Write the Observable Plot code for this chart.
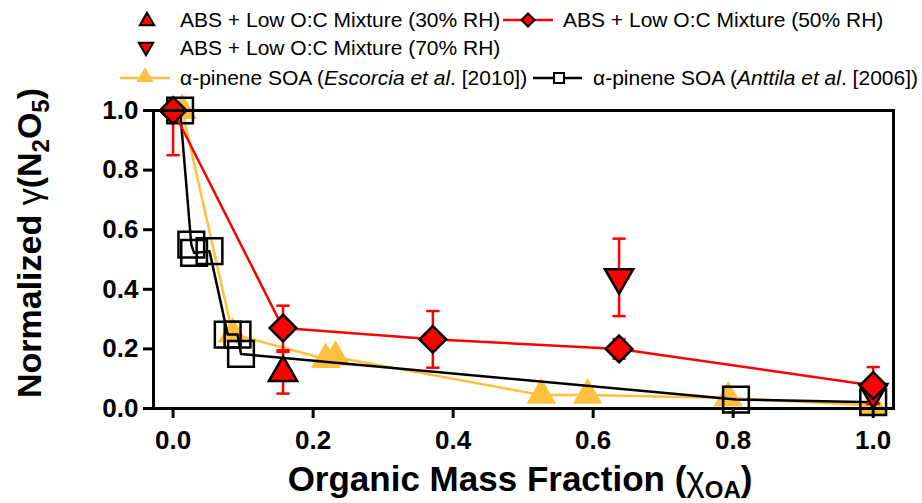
<!DOCTYPE html>
<html>
<head>
<meta charset="utf-8">
<script src="https://cdn.jsdelivr.net/npm/d3@7"></script>
<script src="https://cdn.jsdelivr.net/npm/@observablehq/plot@0.6"></script>
<style>
  body { margin: 0; background: #fff; }
  #wrap { width: 922px; height: 503px; overflow: hidden; position: relative; background: #fff; }
  #legend, #chart { display: block; }
</style>
</head>
<body>
<div id="wrap">
  <svg id="legend" width="922" height="92"></svg>
  <div id="chart"></div>
</div>
<script>
// ABS + low O:C mixture, 50% RH (connected series)
const rh50X   = [0.000, 0.157, 0.371, 0.637, 1.000];
const rh50Y   = [1.000, 0.270, 0.232, 0.200, 0.077];
const rh50Err = [0.150, 0.075, 0.095, 0.033, 0.062];

// ABS + low O:C mixture, 30% RH
const rh30X   = [0.157];
const rh30Y   = [0.120];
const rh30Err = [0.070];

// ABS + low O:C mixture, 70% RH
const rh70X   = [0.637, 1.000];
const rh70Y   = [0.440, 0.055];
const rh70Err = [0.130, 0.038];

// alpha-pinene SOA, Escorcia et al. (2010)
const escX = [0.013, 0.085, 0.218, 0.232, 0.526, 0.592, 0.793, 1.000];
const escY = [1.000, 0.250, 0.165, 0.172, 0.045, 0.045, 0.035, 0.010];

// alpha-pinene SOA, Anttila et al. (2006)
const antX = [0.010, 0.026, 0.030, 0.052, 0.078, 0.092, 0.097, 0.804, 1.000];
const antY = [1.000, 0.550, 0.522, 0.528, 0.248, 0.248, 0.183, 0.030, 0.021];

const xTicks = [0, 0.2, 0.4, 0.6, 0.8, 1.0];
const yTicks = [0, 0.2, 0.4, 0.6, 0.8, 1.0];

const legendLabels = {
  rh30: "ABS + Low O:C Mixture (30% RH)",
  rh50: "ABS + Low O:C Mixture (50% RH)",
  rh70: "ABS + Low O:C Mixture (70% RH)"
};

const RED = "#ff0000";
const ORANGE = "#ffc03f";
const FONT = "'Liberation Sans', Arial, Helvetica, sans-serif";

const rows = (xs, ys, es) => xs.map((x, i) => ({x, y: ys[i], e: es ? es[i] : 0}));
const rh50 = rows(rh50X, rh50Y, rh50Err);
const rh30 = rows(rh30X, rh30Y, rh30Err);
const rh70 = rows(rh70X, rh70Y, rh70Err);
const esc = rows(escX, escY);
const ant = rows(antX, antY);

// short horizontal stroke used as the error-bar cap
const cap = {draw(ctx, size) { const w = Math.sqrt(size) / 2; ctx.moveTo(-w, 0); ctx.lineTo(w, 0); }};

const errorBars = (data) => [
  Plot.ruleX(data.filter(d => d.e > 0), {x: "x", y1: d => d.y - d.e, y2: d => d.y + d.e, stroke: RED, strokeWidth: 2.5, clip: true}),
  Plot.dot(data.filter(d => d.e > 0 && d.y + d.e <= 1), {x: "x", y: d => d.y + d.e, symbol: cap, r: 7.5, stroke: RED, strokeWidth: 2.5}),
  Plot.dot(data.filter(d => d.e > 0), {x: "x", y: d => d.y - d.e, symbol: cap, r: 7.5, stroke: RED, strokeWidth: 2.5})
];

const plot = Plot.plot({
  width: 922,
  height: 411,
  marginTop: 18,
  marginBottom: 95,
  marginLeft: 153,
  marginRight: 29,
  x: {domain: [-0.028, 1.029], label: null},
  y: {domain: [0, 1], label: null},
  style: {background: "white", fontFamily: FONT, overflow: "visible", color: "black"},
  marks: [
    Plot.line(esc, {x: "x", y: "y", stroke: ORANGE, strokeWidth: 2.5}),
    Plot.dot(esc, {x: "x", y: "y", symbol: "triangle", r: 11, fill: ORANGE, stroke: null}),
    Plot.line(ant, {x: "x", y: "y", stroke: "black", strokeWidth: 2.5}),
    Plot.dot(ant, {x: "x", y: "y", symbol: "square", r: 14.5, fill: "none", stroke: "black", strokeWidth: 2.5}),
    Plot.line(rh50, {x: "x", y: "y", stroke: RED, strokeWidth: 2.5}),
    ...errorBars(rh50),
    ...errorBars(rh30),
    ...errorBars(rh70),
    Plot.dot(rh30, {x: "x", y: "y", symbol: "triangle", r: 10.5, fill: RED, stroke: "black", strokeWidth: 2.5}),
    Plot.dot(rh70, {x: "x", y: "y", symbol: "triangle", rotate: 180, r: 10.5, fill: RED, stroke: "black", strokeWidth: 2.5}),
    Plot.dot(rh50, {x: "x", y: "y", symbol: "diamond2", r: 12, fill: RED, stroke: "black", strokeWidth: 2.5}),
    Plot.frame({stroke: "black", strokeWidth: 3}),
    Plot.axisX({ticks: xTicks, tickFormat: d3.format(".1f"), tickSize: 10, tickPadding: 12, strokeWidth: 3,
      fontSize: 26, fontWeight: "bold", label: null}),
    Plot.axisY({ticks: yTicks, tickFormat: d3.format(".1f"), tickSize: 10, tickPadding: 5, strokeWidth: 3,
      fontSize: 26, fontWeight: "bold", label: null})
  ]
});
document.getElementById("chart").appendChild(plot);

// axis titles with sub-scripted chemistry
const svg = d3.select(plot);
const yTitle = svg.append("text")
  .attr("transform", "translate(41,151) rotate(-90)")
  .attr("text-anchor", "middle")
  .attr("font-family", FONT).attr("font-size", 34).attr("font-weight", "bold").attr("fill", "black");
yTitle.append("tspan").text("Normalized ");
yTitle.append("tspan").attr("font-weight", "normal").text("γ");
yTitle.append("tspan").text("(N");
yTitle.append("tspan").attr("font-size", 24).attr("dy", 8).text("2");
yTitle.append("tspan").attr("dy", -8).text("O");
yTitle.append("tspan").attr("font-size", 24).attr("dy", 8).text("5");
yTitle.append("tspan").attr("dy", -8).text(")");

const xTitle = svg.append("text")
  .attr("x", 520).attr("y", 399)
  .attr("text-anchor", "middle")
  .attr("font-family", FONT).attr("font-size", 35).attr("font-weight", "bold").attr("fill", "black");
xTitle.append("tspan").text("Organic Mass Fraction (");
xTitle.append("tspan").attr("font-weight", "normal").text("χ");
xTitle.append("tspan").attr("font-size", 24).attr("dy", 7).text("OA");
xTitle.append("tspan").attr("dy", -7).text(")");

// legend
const lg = d3.select("#legend");
const sym = (type, size) => d3.symbol(type, size)();
const addText = (x, y, parts) => {
  const t = lg.append("text").attr("x", x).attr("y", y + 7)
    .attr("font-family", FONT).attr("font-size", 21).attr("fill", "black");
  parts.forEach(p => t.append("tspan").attr("font-style", p.italic ? "italic" : null).text(p.t));
};
// 30% RH
lg.append("path").attr("d", sym(d3.symbolTriangle, 90)).attr("transform", "translate(147,21)")
  .attr("fill", RED).attr("stroke", "black").attr("stroke-width", 2);
addText(180, 20, [{t: legendLabels.rh30}]);
// 50% RH
lg.append("line").attr("x1", 503).attr("x2", 553).attr("y1", 20).attr("y2", 20).attr("stroke", RED).attr("stroke-width", 2.5);
lg.append("path").attr("d", sym(d3.symbolDiamond2, 110)).attr("transform", "translate(528,20)")
  .attr("fill", RED).attr("stroke", "black").attr("stroke-width", 2);
addText(563, 20, [{t: legendLabels.rh50}]);
// 70% RH
lg.append("path").attr("d", sym(d3.symbolTriangle, 90)).attr("transform", "translate(146,47) rotate(180)")
  .attr("fill", RED).attr("stroke", "black").attr("stroke-width", 2);
addText(180, 48, [{t: legendLabels.rh70}]);
// Escorcia
lg.append("line").attr("x1", 120).attr("x2", 170).attr("y1", 78).attr("y2", 78).attr("stroke", ORANGE).attr("stroke-width", 2.5);
lg.append("path").attr("d", sym(d3.symbolTriangle, 130)).attr("transform", "translate(145,77)").attr("fill", ORANGE);
addText(180, 78, [{t: "α-pinene SOA ("}, {t: "Escorcia et al", italic: true}, {t: ". [2010])"}]);
// Anttila
lg.append("line").attr("x1", 533).attr("x2", 582).attr("y1", 78).attr("y2", 78).attr("stroke", "black").attr("stroke-width", 2.5);
lg.append("path").attr("d", sym(d3.symbolSquare, 100)).attr("transform", "translate(559,78)")
  .attr("fill", "white").attr("stroke", "black").attr("stroke-width", 2);
addText(593, 78, [{t: "α-pinene SOA ("}, {t: "Anttila et al", italic: true}, {t: ". [2006])"}]);
</script>
</body>
</html>
